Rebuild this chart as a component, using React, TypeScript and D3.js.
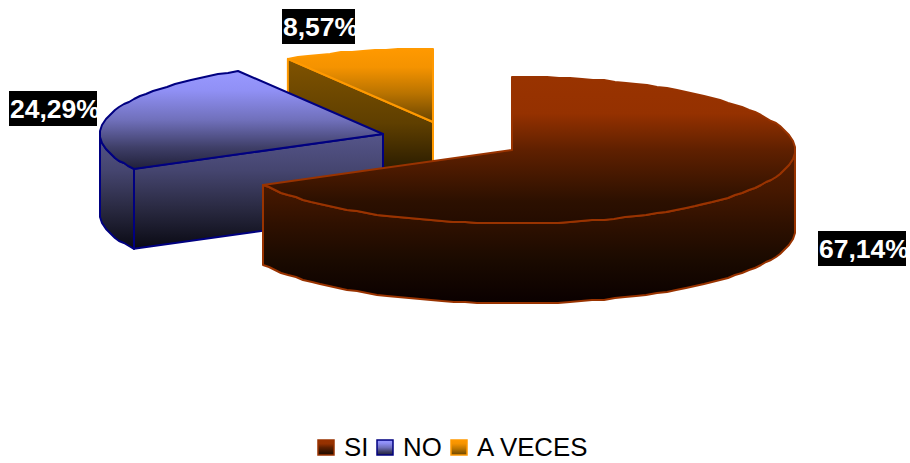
import React from "react";
import * as d3 from "d3";

const categories = ["SI", "NO", "A VECES"];
const shares = [67.14, 24.29, 8.57];
const labels = ["67,14%", "24,29%", "8,57%"];
const strokes = ["#993300", "#000080", "#ff9900"];
const topRamps: [number, string][][] = [
  [[0, "#993300"], [0.25, "#953100"], [0.5, "#5f2000"], [0.85, "#2c1000"], [1, "#240c00"]],
  [[0, "#9999ff"], [0.2, "#9090f5"], [0.5, "#7070bb"], [0.78, "#3f3f68"], [1, "#20203a"]],
  [[0, "#ff9900"], [0.25, "#f59300"], [0.6, "#bb7400"], [1, "#6a4500"]],
];
const wallRamps: [number, string][][] = [
  [[0, "#5a1e00"], [0.26, "#461800"], [0.49, "#2e1000"], [0.72, "#1a0a00"], [1, "#0a0000"]],
  [[0, "#55558a"], [0.32, "#45456f"], [0.67, "#28283f"], [1, "#0a0a14"]],
  [[0, "#805300"], [0.45, "#5f3f00"], [0.7, "#362400"], [1, "#0a0600"]],
];

const W = 910, H = 463, RX = 283, RY = 73.5, DEPTH = 80;
const centers: [number, number][] = [[512, 150], [383, 134], [433, 122]];
const labelBoxes = [
  { x: 818, y: 231, w: 88, h: 35 },
  { x: 9, y: 91, w: 88, h: 35 },
  { x: 282, y: 9, w: 73, h: 35 },
];
const legendX = [318, 377, 451];

const arcs = d3.pie<number>().sort(null).value((d) => d)(shares);
const px = (c: [number, number], a: number): [number, number] => [c[0] + RX * Math.sin(a), c[1] - RY * Math.cos(a)];
const line = d3.line();

function arcPts(c: [number, number], a0: number, a1: number, dy = 0) {
  const n = Math.max(2, Math.ceil(Math.abs(a1 - a0) * 24));
  return d3.range(n + 1).map((i) => {
    const p = px(c, a0 + ((a1 - a0) * i) / n);
    return [Math.round(p[0]), Math.round(p[1] + dy)] as [number, number];
  });
}

const Stops = ({ ramp }: { ramp: [number, string][] }) => (
  <>
    {ramp.map(([o, col]) => (
      <stop key={o} offset={o} stopColor={col} />
    ))}
  </>
);

export default function App() {
  const order = [2, 1, 0];
  return (
    <svg width={W} height={H} style={{ position: "fixed", left: 0, top: 0, background: "#fff" }} fontFamily="'Liberation Sans', Arial, sans-serif">
      <defs>
        {categories.map((_, i) => (
          <React.Fragment key={i}>
            <linearGradient id={`top${i}`} x1="0" y1="0" x2="0" y2="1">
              <Stops ramp={topRamps[i]} />
            </linearGradient>
            <linearGradient id={`wall${i}`} gradientUnits="userSpaceOnUse" x1="0" y1={centers[i][1] + (i === 2 ? -63 : 0)} x2="0" y2={centers[i][1] + DEPTH + (i === 0 ? 73.5 : i === 1 ? 34 : 0)}>
              <Stops ramp={wallRamps[i]} />
            </linearGradient>
          </React.Fragment>
        ))}
        {labelBoxes.map((b, i) => (
          <clipPath id={`clip${i}`} key={i}>
            <rect x={b.x} y={b.y} width={b.w} height={b.h} />
          </clipPath>
        ))}
      </defs>
      {order.map((i) => {
        const c = centers[i];
        const { startAngle: a0, endAngle: a1 } = arcs[i];
        const top = [c, ...arcPts(c, a0, a1)] as [number, number][];
        const cutPts = i === 0 ? null : [c, px(c, a0), [px(c, a0)[0], px(c, a0)[1] + DEPTH], [c[0], c[1] + DEPTH]] as [number, number][];
        const fA0 = Math.max(a0, Math.PI / 2);
        const fA1 = Math.min(a1, 1.5 * Math.PI);
        const outer = fA1 > fA0 ? [...arcPts(c, fA0, fA1), ...arcPts(c, fA1, fA0, DEPTH)] : null;
        return (
          <g key={i} stroke={strokes[i]} strokeWidth={2} strokeLinejoin="round">
            {cutPts && <path d={line(cutPts) + "Z"} fill={`url(#wall${i})`} />}
            {outer && <path d={line(outer) + "Z"} fill={`url(#wall${i})`} />}
            <path d={line(top) + "Z"} fill={`url(#top${i})`} />
          </g>
        );
      })}
      {labelBoxes.map((b, i) => (
        <g key={i}>
          <rect x={b.x} y={b.y} width={b.w} height={b.h} fill="#000" />
          <text x={b.x + 1} y={b.y + 27} clipPath={`url(#clip${i})`} fill="#fff" fontWeight="bold" fontSize={26.5}>{labels[i]}</text>
        </g>
      ))}
      {categories.map((name, i) => (
        <g key={name}>
          <rect x={legendX[i]} y={440} width={16} height={15} fill={`url(#top${i})`} stroke={strokes[i]} strokeWidth={1.5} />
          <text x={legendX[i] + 26} y={456} fontSize={25.8} fill="#000">{name}</text>
        </g>
      ))}
    </svg>
  );
}
